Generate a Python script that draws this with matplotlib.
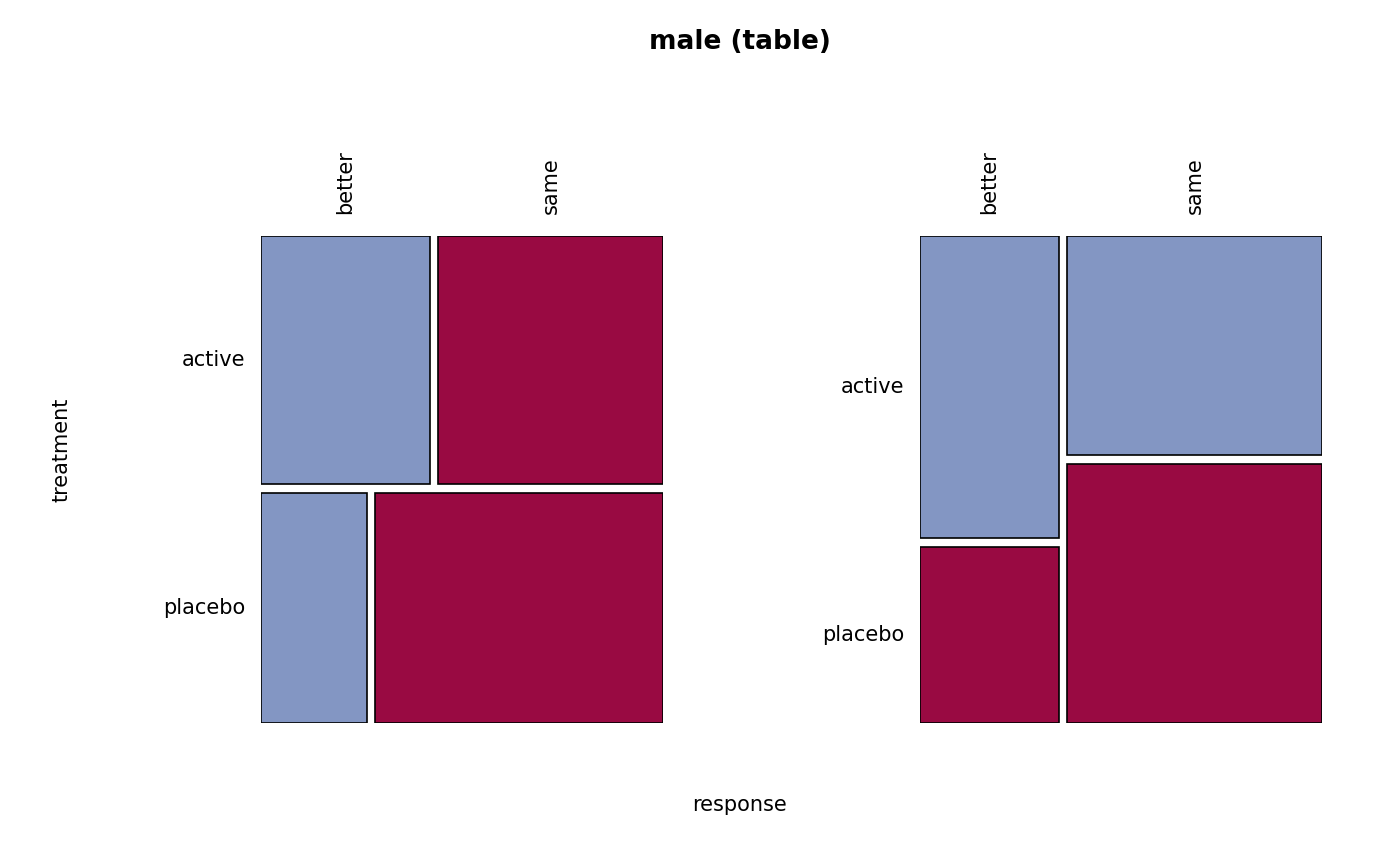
import numpy as np
import matplotlib.pyplot as plt
from matplotlib.patches import Rectangle

treatment = ['active', 'placebo']
response = ['better', 'same']
# counts[treatment][response]
counts = np.array([[12, 16],
                   [7, 19]])

blue = '#8396c3'
red = '#990a42'

fig = plt.figure(figsize=(14, 8.66), dpi=100)
W, H = 1400, 866


def panel_axes(x0, x1, y0, y1):
    ax = fig.add_axes([x0 / W, 1 - y1 / H, (x1 - x0) / W, (y1 - y0) / H])
    ax.set_xlim(0, 1)
    ax.set_ylim(0, 1)
    ax.axis('off')
    return ax


def rect(ax, x, y, w, h, c):
    ax.add_patch(Rectangle((x, y), w, h, facecolor=c, edgecolor='black', lw=1.2))


# left: rows by treatment, split by response
ax = panel_axes(261, 663, 236, 723)
gx, gy = 8 / 402, 9 / 487
row_p = counts.sum(axis=1) / counts.sum()
top = 1.0
for i, t in enumerate(treatment):
    h = row_p[i] * (1 - gy)
    y = top - h
    cp = counts[i] / counts[i].sum()
    x = 0
    for j, r in enumerate(response):
        w = cp[j] * (1 - gx)
        rect(ax, x, y, w, h, blue if j == 0 else red)
        x += w + gx
    ax.text(-0.04, y + h / 2, t, ha='right', va='center', fontsize=15)
    top = y - gy
# column labels from first row
cp = counts[0] / counts[0].sum()
x = 0
for j, r in enumerate(response):
    w = cp[j] * (1 - gx)
    ax.text(x + w / 2, 1.045, r, rotation=90, ha='center', va='bottom', fontsize=15)
    x += w + gx

# right: columns by response, split by treatment
ax = panel_axes(920, 1322, 236, 723)
col_p = counts.sum(axis=0) / counts.sum()
x = 0
for j, r in enumerate(response):
    w = col_p[j] * (1 - gx)
    rp = counts[:, j] / counts[:, j].sum()
    top = 1.0
    for i, t in enumerate(treatment):
        h = rp[i] * (1 - gy)
        rect(ax, x, top - h, w, h, blue if i == 0 else red)
        top -= h + gy
    ax.text(x + w / 2, 1.045, r, rotation=90, ha='center', va='bottom', fontsize=15)
    x += w + gx
# row labels from first column
rp = counts[:, 0] / counts[:, 0].sum()
top = 1.0
for i, t in enumerate(treatment):
    h = rp[i] * (1 - gy)
    ax.text(-0.04, top - h / 2, t, ha='right', va='center', fontsize=15)
    top -= h + gy

fig.text(740 / W, 1 - 42 / H, 'male (table)', ha='center', va='center',
         fontsize=19, fontweight='bold')
fig.text(740 / W, 1 - 805 / H, 'response', ha='center', va='center', fontsize=15)
fig.text(62 / W, 1 - 450 / H, 'treatment', ha='center', va='center',
         rotation=90, fontsize=15)

fig.savefig('out.png', dpi=100)
